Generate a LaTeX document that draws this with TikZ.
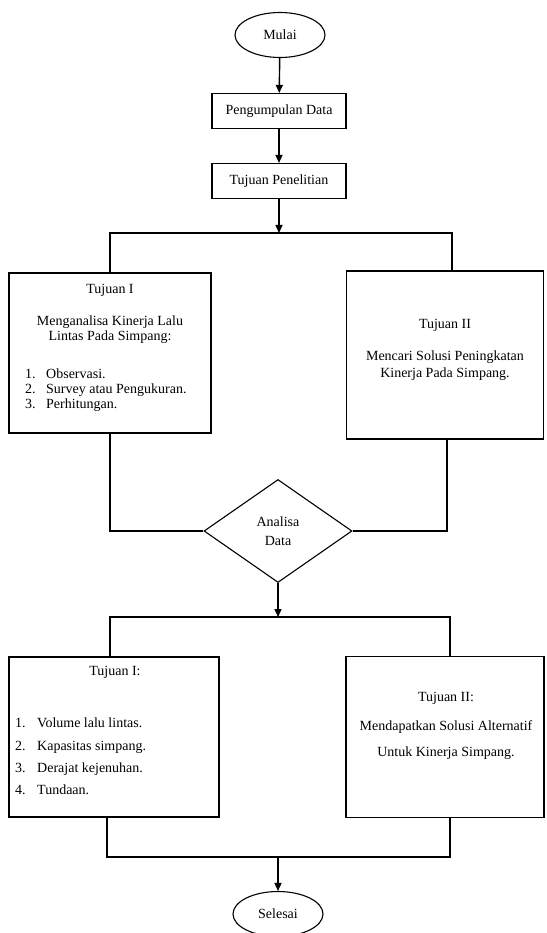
\documentclass[tikz,border=0pt]{standalone}
\usepackage{fontspec}
\setmainfont{Liberation Serif}
\usepackage{tikz}
\usetikzlibrary{shapes.geometric, arrows.meta, positioning, calc}
\tikzset{
  base/.style   = {draw=black, line width=1.1pt, align=center, inner sep=0pt,
                   font=\fontsize{14}{15}\selectfont},
  term/.style   = {base, ellipse, minimum width=90pt, minimum height=45pt},
  proc/.style   = {base, rectangle, minimum width=134pt, minimum height=35pt},
  goal/.style   = {base, rectangle},
  decide/.style = {base, diamond, aspect=1.44, minimum width=148pt, minimum height=103pt},
  txt/.style    = {align=center, inner sep=0pt},
  arr/.style    = {-{Triangle[length=8pt, width=7pt]}, line width=1.4pt},
  link/.style   = {line width=1.4pt},
}

\begin{document}
\begin{tikzpicture}[x=1pt, y=-1pt, font=\fontsize{14}{15}\selectfont]
  \useasboundingbox (0,0) rectangle (546,933);

  \node[term] (mulai) at (280,35)  {Mulai};
  \node[proc] (data)  at (279,111) {Pengumpulan Data};
  \node[proc] (tuj)   at (279,181) {Tujuan Penelitian};

  % tujuan penelitian
  \node[goal, minimum width=202pt, minimum height=160pt] (t1) at (110,353) {};
  \node[goal, minimum width=197pt, minimum height=168pt] (t2) at (445,355) {};
  \node[txt] (t1a) at (110,290) {Tujuan I};
  \node[txt, font=\fontsize{14}{15}\selectfont] (t1b) at (110,329.5)
    {Menganalisa Kinerja Lalu\\Lintas Pada Simpang:};
  \node[txt, anchor=west, align=left, font=\fontsize{14}{15}\selectfont] (t1c) at (25,390)
    {\makebox[21pt][l]{1.}Observasi.\\\makebox[21pt][l]{2.}Survey atau Pengukuran.\\\makebox[21pt][l]{3.}Perhitungan.};
  \node[txt] (t2a) at (445,325) {Tujuan II};
  \node[txt, font=\fontsize{14}{17}\selectfont] (t2b) at (445,365.5)
    {Mencari Solusi Peningkatan\\Kinerja Pada Simpang.};

  \node[decide, font=\fontsize{14}{19}\selectfont] (ana) at (278,531) {Analisa\\Data};

  % hasil
  \node[goal, minimum width=210pt, minimum height=160pt] (h1) at (114,737) {};
  \node[goal, minimum width=198pt, minimum height=161pt] (h2) at (445,737) {};
  \node[txt] (h1a) at (115,672) {Tujuan I:};
  \node[txt, anchor=west, align=left, font=\fontsize{14}{22.3}\selectfont] (h1b) at (15,756.5)
    {\makebox[22pt][l]{1.}Volume lalu lintas.\\\makebox[22pt][l]{2.}Kapasitas simpang.\\\makebox[22pt][l]{3.}Derajat kejenuhan.\\\makebox[22pt][l]{4.}Tundaan.};
  \node[txt] (h2a) at (446,698) {Tujuan II:};
  \node[txt, font=\fontsize{14}{26}\selectfont] (h2b) at (446,740)
    {Mendapatkan Solusi Alternatif\\Untuk Kinerja Simpang.};

  \node[term] (selesai) at (278,914) {Selesai};

  \coordinate (j1) at (279,233);
  \coordinate (j2) at (278,617);
  \coordinate (j3) at (278,857);

  \draw[arr] (mulai) -- (data);
  \draw[arr] (data) -- (tuj);
  \draw[arr] (tuj) -- (j1);
  \draw[link] (t1.north) |- (j1) -| ([xshift=7pt]t2.north);
  \draw[link] (t1.south) |- (ana.west);
  \draw[link] ([xshift=2pt]t2.south) |- (ana.east);
  \draw[arr] (ana) -- (j2);
  \draw[link] ([xshift=-4pt]h1.north) |- (j2) -| ([xshift=5pt]h2.north);
  \draw[link] ([xshift=-7pt]h1.south) |- (j3) -| ([xshift=5pt]h2.south);
  \draw[arr] (j3) -- (selesai);

\end{tikzpicture}
\end{document}
